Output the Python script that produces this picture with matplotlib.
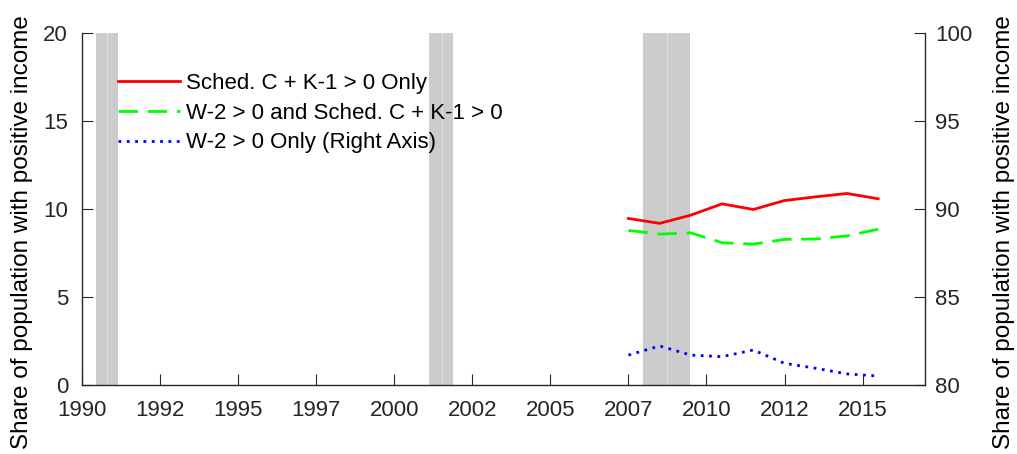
import matplotlib
matplotlib.use('Agg')
import matplotlib.pyplot as plt
import numpy as np

plt.rcParams['font.family'] = ['Liberation Sans', 'DejaVu Sans']
plt.rcParams['font.size'] = 16

# yearly observations (mid-year)
years = [2007.5, 2008.5, 2009.5, 2010.5, 2011.5, 2012.5, 2013.5, 2014.5, 2015.5]
sched_only = [9.47, 9.19, 9.66, 10.30, 9.98, 10.49, 10.70, 10.89, 10.59]
w2_and_sched = [8.79, 8.58, 8.65, 8.09, 8.01, 8.28, 8.30, 8.48, 8.86]
w2_only = [81.70, 82.22, 81.70, 81.61, 81.99, 81.23, 80.95, 80.63, 80.51]

# recessions: start, middle, end (two shaded pieces each)
rec_start = [1990.44, 2001.11, 2007.97]
rec_mid = [1990.80, 2001.52, 2008.72]
rec_end = [1991.15, 2001.87, 2009.47]

xtick_pos = np.arange(1990, 2016, 2.5)
xtick_lab = [str(int(t)) for t in xtick_pos]

axcol = '#262626'
ylab = 'Share of population with positive income'

fig = plt.figure(figsize=(10.17, 4.54), dpi=100)
ax = fig.add_axes([0.0806, 0.152, 0.829, 0.7747])
ax2 = ax.twinx()

for s, m, e in zip(rec_start, rec_mid, rec_end):
    ax.axvspan(s, m, color='#cccccc', lw=0, zorder=0)
    ax.axvspan(m, e, color='#cccccc', lw=0, zorder=0)
    ax.axvline(m, color='#dedede', lw=0.8, zorder=0.5)

l1, = ax.plot(years, sched_only, color='red', lw=2, label='Sched. C + K-1 > 0 Only')
l2, = ax.plot(years, w2_and_sched, color=(0, 1, 0), lw=2, dashes=(7, 3.5),
              label='W-2 > 0 and Sched. C + K-1 > 0')
l3, = ax2.plot(years, w2_only, color='blue', lw=2, linestyle=(0, (1, 2)),
               label='W-2 > 0 Only (Right Axis)')

ax.set_xlim(1990, 2017)
ax.set_ylim(0, 20)
ax2.set_ylim(80, 100)
ax.set_xticks(xtick_pos)
ax.set_xticklabels(xtick_lab)
ax.set_yticks([0, 5, 10, 15, 20])
ax2.set_yticks([80, 85, 90, 95, 100])

ax.set_ylabel(ylab, fontsize=17.5)
ax2.set_ylabel(ylab, fontsize=17.5)
ax.yaxis.set_label_coords(-0.058, 0.435)
ax2.yaxis.set_label_coords(1.0807, 0.435)

ax.tick_params(axis='x', direction='in', length=8, pad=11, colors=axcol)
ax.tick_params(axis='y', direction='in', length=8, pad=10, colors=axcol)
ax2.tick_params(axis='y', direction='in', length=8, pad=7, colors=axcol)

ax.spines['top'].set_visible(False)
ax.spines['right'].set_visible(False)
for k in ['top', 'left', 'bottom']:
    ax2.spines[k].set_visible(False)
for sp in [ax.spines['left'], ax.spines['bottom'], ax2.spines['right']]:
    sp.set_color(axcol)
    sp.set_linewidth(1.0)

ax2.legend(handles=[l1, l2, l3], loc='upper left', bbox_to_anchor=(0.019, 0.945),
           frameon=False, handlelength=2.8, handletextpad=0.27, labelspacing=0.4,
           fontsize=16)

fig.savefig('out.png', dpi=100)
